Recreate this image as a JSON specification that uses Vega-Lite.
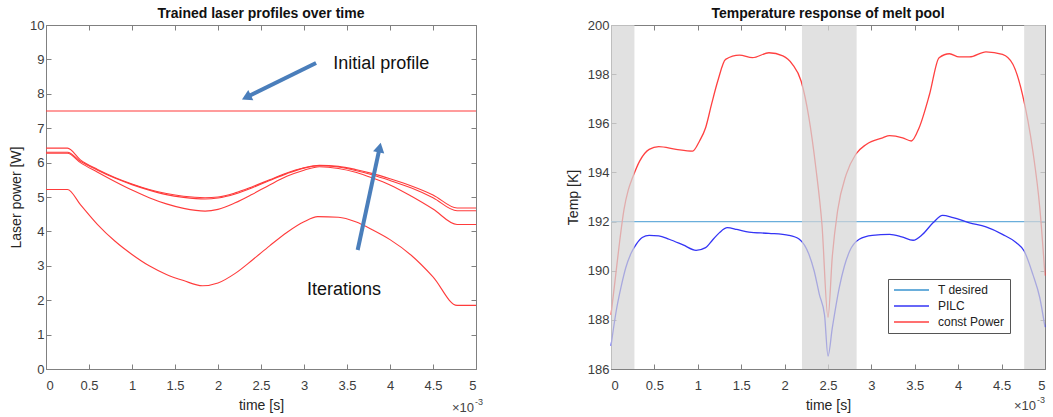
{
  "$schema": "https://vega.github.io/schema/vega-lite/v6.json",
  "padding": {"left": 9, "top": 7, "right": 0, "bottom": 0},
  "background": "white",
  "datasets": {
    "profiles": [
      {"t": 0, "p": 7.5, "s": "init"}, {"t": 5, "p": 7.5, "s": "init"},
      {"t": 0, "p": 6.42, "s": "A"}, {"t": 0.25, "p": 6.42, "s": "A"}, {"t": 0.4, "p": 6.08, "s": "A"}, {"t": 0.6, "p": 5.8, "s": "A"}, {"t": 0.8, "p": 5.57, "s": "A"}, {"t": 1.0, "p": 5.38, "s": "A"}, {"t": 1.2, "p": 5.22, "s": "A"}, {"t": 1.4, "p": 5.1, "s": "A"}, {"t": 1.6, "p": 5.02, "s": "A"}, {"t": 1.85, "p": 4.98, "s": "A"}, {"t": 2.0, "p": 5.0, "s": "A"}, {"t": 2.2, "p": 5.12, "s": "A"}, {"t": 2.4, "p": 5.3, "s": "A"}, {"t": 2.6, "p": 5.5, "s": "A"}, {"t": 2.8, "p": 5.7, "s": "A"}, {"t": 3.0, "p": 5.85, "s": "A"}, {"t": 3.18, "p": 5.92, "s": "A"}, {"t": 3.4, "p": 5.89, "s": "A"}, {"t": 3.6, "p": 5.8, "s": "A"}, {"t": 3.8, "p": 5.68, "s": "A"}, {"t": 4.0, "p": 5.53, "s": "A"}, {"t": 4.25, "p": 5.32, "s": "A"}, {"t": 4.5, "p": 5.06, "s": "A"}, {"t": 4.78, "p": 4.68, "s": "A"}, {"t": 5, "p": 4.68, "s": "A"},
      {"t": 0, "p": 6.3, "s": "B"}, {"t": 0.25, "p": 6.3, "s": "B"}, {"t": 0.4, "p": 6.04, "s": "B"}, {"t": 0.6, "p": 5.78, "s": "B"}, {"t": 0.8, "p": 5.55, "s": "B"}, {"t": 1.0, "p": 5.36, "s": "B"}, {"t": 1.2, "p": 5.2, "s": "B"}, {"t": 1.4, "p": 5.07, "s": "B"}, {"t": 1.6, "p": 4.99, "s": "B"}, {"t": 1.85, "p": 4.94, "s": "B"}, {"t": 2.0, "p": 4.97, "s": "B"}, {"t": 2.2, "p": 5.09, "s": "B"}, {"t": 2.4, "p": 5.27, "s": "B"}, {"t": 2.6, "p": 5.48, "s": "B"}, {"t": 2.8, "p": 5.68, "s": "B"}, {"t": 3.0, "p": 5.84, "s": "B"}, {"t": 3.18, "p": 5.91, "s": "B"}, {"t": 3.4, "p": 5.87, "s": "B"}, {"t": 3.6, "p": 5.77, "s": "B"}, {"t": 3.8, "p": 5.64, "s": "B"}, {"t": 4.0, "p": 5.48, "s": "B"}, {"t": 4.25, "p": 5.26, "s": "B"}, {"t": 4.5, "p": 4.98, "s": "B"}, {"t": 4.78, "p": 4.6, "s": "B"}, {"t": 5, "p": 4.6, "s": "B"},
      {"t": 0, "p": 6.27, "s": "C"}, {"t": 0.25, "p": 6.27, "s": "C"}, {"t": 0.4, "p": 6.0, "s": "C"}, {"t": 0.6, "p": 5.72, "s": "C"}, {"t": 0.8, "p": 5.45, "s": "C"}, {"t": 1.0, "p": 5.2, "s": "C"}, {"t": 1.2, "p": 4.98, "s": "C"}, {"t": 1.4, "p": 4.8, "s": "C"}, {"t": 1.6, "p": 4.67, "s": "C"}, {"t": 1.85, "p": 4.59, "s": "C"}, {"t": 2.0, "p": 4.64, "s": "C"}, {"t": 2.2, "p": 4.83, "s": "C"}, {"t": 2.4, "p": 5.08, "s": "C"}, {"t": 2.6, "p": 5.35, "s": "C"}, {"t": 2.8, "p": 5.6, "s": "C"}, {"t": 3.0, "p": 5.78, "s": "C"}, {"t": 3.18, "p": 5.88, "s": "C"}, {"t": 3.4, "p": 5.83, "s": "C"}, {"t": 3.6, "p": 5.72, "s": "C"}, {"t": 3.8, "p": 5.55, "s": "C"}, {"t": 4.0, "p": 5.35, "s": "C"}, {"t": 4.25, "p": 5.02, "s": "C"}, {"t": 4.5, "p": 4.65, "s": "C"}, {"t": 4.78, "p": 4.2, "s": "C"}, {"t": 5, "p": 4.2, "s": "C"},
      {"t": 0, "p": 5.22, "s": "D"}, {"t": 0.25, "p": 5.22, "s": "D"}, {"t": 0.4, "p": 4.78, "s": "D"}, {"t": 0.6, "p": 4.2, "s": "D"}, {"t": 0.8, "p": 3.72, "s": "D"}, {"t": 1.0, "p": 3.33, "s": "D"}, {"t": 1.2, "p": 3.0, "s": "D"}, {"t": 1.4, "p": 2.75, "s": "D"}, {"t": 1.6, "p": 2.57, "s": "D"}, {"t": 1.82, "p": 2.42, "s": "D"}, {"t": 2.0, "p": 2.5, "s": "D"}, {"t": 2.2, "p": 2.78, "s": "D"}, {"t": 2.4, "p": 3.17, "s": "D"}, {"t": 2.6, "p": 3.58, "s": "D"}, {"t": 2.8, "p": 3.97, "s": "D"}, {"t": 3.0, "p": 4.28, "s": "D"}, {"t": 3.16, "p": 4.43, "s": "D"}, {"t": 3.4, "p": 4.41, "s": "D"}, {"t": 3.6, "p": 4.28, "s": "D"}, {"t": 3.8, "p": 4.04, "s": "D"}, {"t": 4.0, "p": 3.76, "s": "D"}, {"t": 4.25, "p": 3.3, "s": "D"}, {"t": 4.5, "p": 2.68, "s": "D"}, {"t": 4.78, "p": 1.85, "s": "D"}, {"t": 5, "p": 1.85, "s": "D"}
    ],
    "arrows": [
      {"x": 3.14, "y": 8.895, "x2": 2.33, "y2": 7.898, "angle": 243.7},
      {"x": 3.624, "y": 3.459, "x2": 3.88, "y2": 6.436, "angle": 12.1}
    ],
    "notes": [
      {"x": 3.34, "y": 8.87, "label": "Initial profile"},
      {"x": 3.035, "y": 2.3, "label": "Iterations"}
    ],
    "temps": [
      {"t": 0, "T": 192, "s": "T desired"}, {"t": 5, "T": 192, "s": "T desired"},
      {"t": 0, "T": 186.94, "s": "PILC"}, {"t": 0.06, "T": 188.36, "s": "PILC"}, {"t": 0.12, "T": 189.4, "s": "PILC"}, {"t": 0.17, "T": 190.12, "s": "PILC"}, {"t": 0.23, "T": 190.7, "s": "PILC"}, {"t": 0.29, "T": 191.07, "s": "PILC"}, {"t": 0.36, "T": 191.35, "s": "PILC"}, {"t": 0.44, "T": 191.44, "s": "PILC"}, {"t": 0.55, "T": 191.42, "s": "PILC"}, {"t": 0.67, "T": 191.28, "s": "PILC"}, {"t": 0.83, "T": 191.05, "s": "PILC"}, {"t": 0.98, "T": 190.83, "s": "PILC"}, {"t": 1.09, "T": 190.94, "s": "PILC"}, {"t": 1.17, "T": 191.25, "s": "PILC"}, {"t": 1.25, "T": 191.55, "s": "PILC"}, {"t": 1.34, "T": 191.75, "s": "PILC"}, {"t": 1.45, "T": 191.68, "s": "PILC"}, {"t": 1.59, "T": 191.57, "s": "PILC"}, {"t": 1.82, "T": 191.52, "s": "PILC"}, {"t": 2.05, "T": 191.44, "s": "PILC"}, {"t": 2.17, "T": 191.28, "s": "PILC"}, {"t": 2.28, "T": 190.67, "s": "PILC"}, {"t": 2.34, "T": 190.0, "s": "PILC"}, {"t": 2.4, "T": 189.04, "s": "PILC"}, {"t": 2.46, "T": 188.2, "s": "PILC"}, {"t": 2.5, "T": 186.53, "s": "PILC"}, {"t": 2.55, "T": 187.68, "s": "PILC"}, {"t": 2.63, "T": 189.31, "s": "PILC"}, {"t": 2.69, "T": 190.2, "s": "PILC"}, {"t": 2.75, "T": 190.8, "s": "PILC"}, {"t": 2.86, "T": 191.28, "s": "PILC"}, {"t": 3.01, "T": 191.44, "s": "PILC"}, {"t": 3.21, "T": 191.48, "s": "PILC"}, {"t": 3.35, "T": 191.38, "s": "PILC"}, {"t": 3.48, "T": 191.24, "s": "PILC"}, {"t": 3.59, "T": 191.48, "s": "PILC"}, {"t": 3.71, "T": 191.95, "s": "PILC"}, {"t": 3.82, "T": 192.25, "s": "PILC"}, {"t": 3.94, "T": 192.16, "s": "PILC"}, {"t": 4.13, "T": 191.95, "s": "PILC"}, {"t": 4.32, "T": 191.78, "s": "PILC"}, {"t": 4.51, "T": 191.48, "s": "PILC"}, {"t": 4.67, "T": 191.14, "s": "PILC"}, {"t": 4.76, "T": 190.8, "s": "PILC"}, {"t": 4.86, "T": 189.85, "s": "PILC"}, {"t": 4.94, "T": 188.9, "s": "PILC"}, {"t": 5.0, "T": 187.7, "s": "PILC"},
      {"t": 0, "T": 188.2, "s": "const Power"}, {"t": 0.05, "T": 189.7, "s": "const Power"}, {"t": 0.1, "T": 191.2, "s": "const Power"}, {"t": 0.15, "T": 192.5, "s": "const Power"}, {"t": 0.2, "T": 193.3, "s": "const Power"}, {"t": 0.25, "T": 193.8, "s": "const Power"}, {"t": 0.33, "T": 194.46, "s": "const Power"}, {"t": 0.44, "T": 194.94, "s": "const Power"}, {"t": 0.55, "T": 195.05, "s": "const Power"}, {"t": 0.75, "T": 194.94, "s": "const Power"}, {"t": 0.94, "T": 194.87, "s": "const Power"}, {"t": 1.02, "T": 195.28, "s": "const Power"}, {"t": 1.09, "T": 195.82, "s": "const Power"}, {"t": 1.16, "T": 196.8, "s": "const Power"}, {"t": 1.23, "T": 197.72, "s": "const Power"}, {"t": 1.32, "T": 198.6, "s": "const Power"}, {"t": 1.48, "T": 198.77, "s": "const Power"}, {"t": 1.63, "T": 198.67, "s": "const Power"}, {"t": 1.82, "T": 198.87, "s": "const Power"}, {"t": 1.98, "T": 198.74, "s": "const Power"}, {"t": 2.09, "T": 198.4, "s": "const Power"}, {"t": 2.19, "T": 197.72, "s": "const Power"}, {"t": 2.28, "T": 196.23, "s": "const Power"}, {"t": 2.36, "T": 194.19, "s": "const Power"}, {"t": 2.43, "T": 191.9, "s": "const Power"}, {"t": 2.5, "T": 188.1, "s": "const Power"}, {"t": 2.55, "T": 190.6, "s": "const Power"}, {"t": 2.61, "T": 192.43, "s": "const Power"}, {"t": 2.71, "T": 193.92, "s": "const Power"}, {"t": 2.82, "T": 194.74, "s": "const Power"}, {"t": 2.94, "T": 195.14, "s": "const Power"}, {"t": 3.13, "T": 195.41, "s": "const Power"}, {"t": 3.21, "T": 195.5, "s": "const Power"}, {"t": 3.36, "T": 195.41, "s": "const Power"}, {"t": 3.46, "T": 195.28, "s": "const Power"}, {"t": 3.55, "T": 195.82, "s": "const Power"}, {"t": 3.67, "T": 197.18, "s": "const Power"}, {"t": 3.78, "T": 198.67, "s": "const Power"}, {"t": 3.9, "T": 198.83, "s": "const Power"}, {"t": 4.01, "T": 198.7, "s": "const Power"}, {"t": 4.13, "T": 198.7, "s": "const Power"}, {"t": 4.32, "T": 198.91, "s": "const Power"}, {"t": 4.51, "T": 198.8, "s": "const Power"}, {"t": 4.63, "T": 198.4, "s": "const Power"}, {"t": 4.74, "T": 197.18, "s": "const Power"}, {"t": 4.86, "T": 194.87, "s": "const Power"}, {"t": 4.94, "T": 192.56, "s": "const Power"}, {"t": 5.0, "T": 189.8, "s": "const Power"}
    ],
    "bands": [
      {"a": 0, "b": 0.27}, {"a": 2.2, "b": 2.83}, {"a": 4.76, "b": 5}
    ],
    "corner": [{"x": 5, "y": 0}],
    "corner2": [{"x": 5, "y": 186}]
  },
  "hconcat": [
    {
      "width": 430,
      "height": 344,
      "title": {"text": "Trained laser profiles over time", "fontSize": 14, "fontWeight": "bold", "offset": -2, "color": "#111111"},
      "layer": [
        {
          "data": {"name": "profiles"},
          "mark": {"type": "line", "color": "#ff3b3b", "strokeWidth": 1.1, "interpolate": "monotone"},
          "encoding": {
            "x": {"field": "t", "type": "quantitative", "scale": {"domain": [0, 5], "nice": false},
                  "axis": {"title": "time [s]", "values": [0, 0.5, 1, 1.5, 2, 2.5, 3, 3.5, 4, 4.5, 5], "format": "~f", "labelPadding": 15, "titlePadding": 6}},
            "y": {"field": "p", "type": "quantitative", "scale": {"domain": [0, 10], "nice": false},
                  "axis": {"title": "Laser power [W]", "values": [0, 1, 2, 3, 4, 5, 6, 7, 8, 9, 10], "format": "~f", "titlePadding": 6}},
            "detail": {"field": "s"}
          }
        },
        {
          "data": {"name": "arrows"},
          "mark": {"type": "rule", "color": "#4a7ebb", "strokeWidth": 4, "strokeCap": "butt"},
          "encoding": {
            "x": {"field": "x", "type": "quantitative", "axis": null},
            "y": {"field": "y", "type": "quantitative", "axis": null},
            "x2": {"field": "x2"},
            "y2": {"field": "y2"}
          }
        },
        {
          "data": {"name": "arrows"},
          "mark": {"type": "point", "shape": "triangle-up", "filled": true, "color": "#4a7ebb", "size": 130, "opacity": 1},
          "encoding": {
            "x": {"field": "x2", "type": "quantitative", "axis": null},
            "y": {"field": "y2", "type": "quantitative", "axis": null},
            "angle": {"field": "angle", "type": "quantitative", "scale": null}
          }
        },
        {
          "data": {"name": "notes"},
          "mark": {"type": "text", "fontSize": 18, "color": "#111111", "align": "left", "baseline": "middle"},
          "encoding": {
            "x": {"field": "x", "type": "quantitative", "axis": null},
            "y": {"field": "y", "type": "quantitative", "axis": null},
            "text": {"field": "label"}
          }
        },
        {
          "data": {"name": "corner"},
          "mark": {"type": "text", "text": "\u00d710", "fontSize": 13, "color": "#444444", "align": "right", "baseline": "middle", "dx": -2, "dy": 39},
          "encoding": {
            "x": {"field": "x", "type": "quantitative",
                  "axis": {"orient": "top", "labels": false, "title": null, "values": [0, 0.5, 1, 1.5, 2, 2.5, 3, 3.5, 4, 4.5, 5]}},
            "y": {"field": "y", "type": "quantitative",
                  "axis": {"orient": "right", "labels": false, "title": null, "values": [0, 1, 2, 3, 4, 5, 6, 7, 8, 9, 10]}}
          }
        },
        {
          "data": {"name": "corner"},
          "mark": {"type": "text", "text": "-3", "fontSize": 9, "color": "#444444", "align": "left", "baseline": "middle", "dx": -1, "dy": 33},
          "encoding": {
            "x": {"field": "x", "type": "quantitative", "axis": null},
            "y": {"field": "y", "type": "quantitative", "axis": null}
          }
        }
      ],
      "resolve": {"axis": {"x": "independent", "y": "independent"}}
    },
    {
      "width": 434,
      "height": 344,
      "title": {"text": "Temperature response of melt pool", "fontSize": 14, "fontWeight": "bold", "offset": -2, "color": "#111111"},
      "layer": [
        {
          "data": {"name": "temps"},
          "mark": {"type": "line", "strokeWidth": 1.3, "interpolate": "monotone"},
          "encoding": {
            "x": {"field": "t", "type": "quantitative", "scale": {"domain": [0, 5], "nice": false},
                  "axis": {"title": "time [s]", "values": [0, 0.5, 1, 1.5, 2, 2.5, 3, 3.5, 4, 4.5, 5], "format": "~f", "labelPadding": 15, "titlePadding": 6}},
            "y": {"field": "T", "type": "quantitative", "scale": {"domain": [186, 200], "nice": false, "zero": false},
                  "axis": {"title": "Temp [K]", "values": [186, 188, 190, 192, 194, 196, 198, 200], "format": "~f", "titlePadding": 7}},
            "color": {"field": "s", "type": "nominal",
                      "scale": {"domain": ["T desired", "PILC", "const Power"], "range": ["#6aaedb", "#3434f5", "#ff4040"]},
                      "legend": {"orient": "none", "legendX": 842, "legendY": 254, "title": null,
                                 "symbolType": "M-1,0H6", "symbolSize": 100, "symbolStrokeWidth": 1.6,
                                 "labelOffset": 33, "labelFontSize": 12, "labelColor": "#222222",
                                 "strokeColor": "#555555", "fillColor": "white", "padding": 5, "rowPadding": 4, "cornerRadius": 0}},
            "strokeWidth": {"field": "s", "type": "nominal", "scale": {"domain": ["T desired", "PILC", "const Power"], "range": [2, 1.3, 1.3]}, "legend": null}
          }
        },
        {
          "data": {"name": "bands"},
          "mark": {"type": "rect", "color": "#d6d6d6", "opacity": 0.72},
          "encoding": {
            "x": {"field": "a", "type": "quantitative", "axis": null},
            "x2": {"field": "b"}
          }
        },
        {
          "data": {"name": "corner2"},
          "mark": {"type": "text", "text": "\u00d710", "fontSize": 13, "color": "#444444", "align": "right", "baseline": "middle", "dx": -9, "dy": 37},
          "encoding": {
            "x": {"field": "x", "type": "quantitative",
                  "axis": {"orient": "top", "labels": false, "title": null, "values": [0, 0.5, 1, 1.5, 2, 2.5, 3, 3.5, 4, 4.5, 5]}},
            "y": {"field": "y", "type": "quantitative",
                  "axis": {"orient": "right", "labels": false, "title": null, "values": [186, 188, 190, 192, 194, 196, 198, 200]}}
          }
        },
        {
          "data": {"name": "corner2"},
          "mark": {"type": "text", "text": "-3", "fontSize": 9, "color": "#444444", "align": "left", "baseline": "middle", "dx": -8, "dy": 31},
          "encoding": {
            "x": {"field": "x", "type": "quantitative", "axis": null},
            "y": {"field": "y", "type": "quantitative", "axis": null}
          }
        }
      ],
      "resolve": {"axis": {"x": "independent", "y": "independent"}}
    }
  ],
  "spacing": 135,
  "bounds": "flush",
  "config": {
    "font": "Liberation Sans",
    "view": {"stroke": null},
    "axis": {
      "grid": false,
      "domainColor": "#808080",
      "tickColor": "#808080",
      "labelColor": "#3c3c3c",
      "titleColor": "#262626",
      "labelFontSize": 13,
      "titleFontSize": 14,
      "titleFontWeight": "normal",
      "tickSize": -5,
      "labelPadding": 7,
      "domainWidth": 1,
      "tickWidth": 1
    }
  }
}
